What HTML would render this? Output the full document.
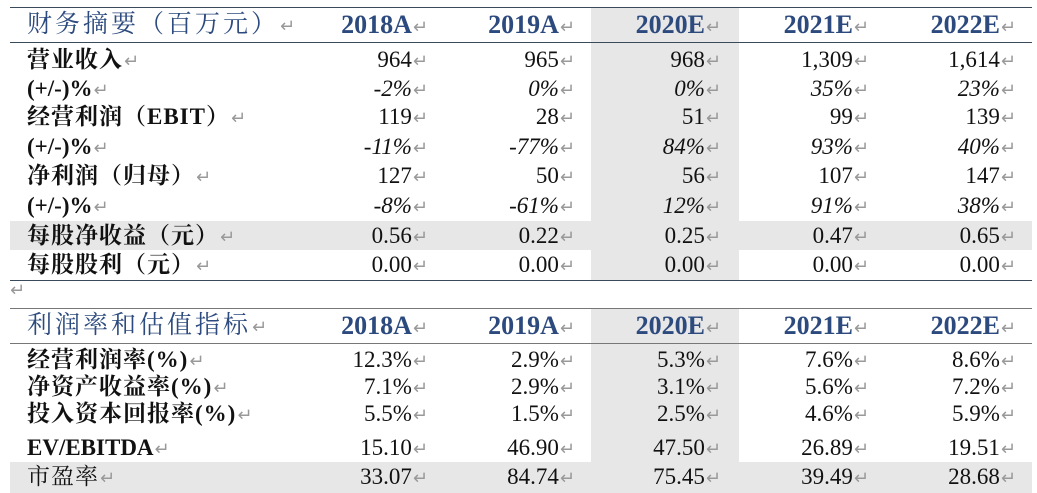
<!DOCTYPE html>
<html><head><meta charset="utf-8"><style>
body{margin:0;width:1037px;height:493px;background:#fff;position:relative;overflow:hidden;font-family:"Liberation Serif","Noto Serif CJK SC",serif;color:#111}
.gcol{position:absolute;left:591px;width:148px;background:#e7e7e7}
.grow{position:absolute;left:10px;width:1022px;background:#e7e7e7}
.line{position:absolute;left:10px;width:1022px;height:1px;background:#3a4a5a}
.row{position:absolute;left:0;width:1037px;height:29px;line-height:29px;font-size:23px}
.row span{position:absolute;white-space:nowrap}
.lab{left:27px;font-weight:bold;letter-spacing:1px;font-family:"Liberation Serif","Noto Serif CJK SC",serif}
.c{text-align:right;width:140px}
.c1{left:288px}.c2{left:435px}.c3{left:581px}.c4{left:729px}.c5{left:876px}
.r{color:#999;font-size:18px;font-family:"DejaVu Sans",sans-serif;margin-left:1px;font-weight:normal;font-style:normal}
.hd{font-weight:bold;color:#2c4a7e;font-size:26px}
.hd .lab{font-weight:normal;color:#2c4a7e;letter-spacing:3px;font-size:25px}
.it{font-style:italic}
</style></head><body>
<div class="gcol" style="top:7px;height:273px"></div>
<div class="gcol" style="top:308px;height:185px"></div>
<div class="grow" style="top:221px;height:29px"></div>
<div class="grow" style="top:462px;height:31px"></div>
<div class="line" style="top:7px"></div>
<div class="line" style="top:42px"></div>
<div class="line" style="top:280px"></div>
<div class="line" style="top:308px;background:#777"></div>
<div class="line" style="top:343px;background:#777"></div>
<div style="position:absolute;left:10px;top:280px;color:#999;font-size:18px;font-family:'DejaVu Sans',sans-serif">↵</div>

<div class="row hd" style="top:8px;height:34px;line-height:34px"><span class="lab">财务摘要（百万元）<i class="r">↵</i></span><span class="c c1">2018A<i class="r">↵</i></span><span class="c c2">2019A<i class="r">↵</i></span><span class="c c3">2020E<i class="r">↵</i></span><span class="c c4">2021E<i class="r">↵</i></span><span class="c c5">2022E<i class="r">↵</i></span></div>

<div class="row" style="top:45px"><span class="lab">营业收入<b class="r">↵</b></span><span class="c c1">964<b class="r">↵</b></span><span class="c c2">965<b class="r">↵</b></span><span class="c c3">968<b class="r">↵</b></span><span class="c c4">1,309<b class="r">↵</b></span><span class="c c5">1,614<b class="r">↵</b></span></div>
<div class="row it" style="top:74px"><span class="lab" style="font-style:normal;letter-spacing:0">(+/-)%<b class="r">↵</b></span><span class="c c1">-2%<b class="r">↵</b></span><span class="c c2">0%<b class="r">↵</b></span><span class="c c3">0%<b class="r">↵</b></span><span class="c c4">35%<b class="r">↵</b></span><span class="c c5">23%<b class="r">↵</b></span></div>
<div class="row" style="top:102px"><span class="lab">经营利润（EBIT）<b class="r">↵</b></span><span class="c c1">119<b class="r">↵</b></span><span class="c c2">28<b class="r">↵</b></span><span class="c c3">51<b class="r">↵</b></span><span class="c c4">99<b class="r">↵</b></span><span class="c c5">139<b class="r">↵</b></span></div>
<div class="row it" style="top:132px"><span class="lab" style="font-style:normal;letter-spacing:0">(+/-)%<b class="r">↵</b></span><span class="c c1">-11%<b class="r">↵</b></span><span class="c c2">-77%<b class="r">↵</b></span><span class="c c3">84%<b class="r">↵</b></span><span class="c c4">93%<b class="r">↵</b></span><span class="c c5">40%<b class="r">↵</b></span></div>
<div class="row" style="top:161px"><span class="lab">净利润（归母）<b class="r">↵</b></span><span class="c c1">127<b class="r">↵</b></span><span class="c c2">50<b class="r">↵</b></span><span class="c c3">56<b class="r">↵</b></span><span class="c c4">107<b class="r">↵</b></span><span class="c c5">147<b class="r">↵</b></span></div>
<div class="row it" style="top:191px"><span class="lab" style="font-style:normal;letter-spacing:0">(+/-)%<b class="r">↵</b></span><span class="c c1">-8%<b class="r">↵</b></span><span class="c c2">-61%<b class="r">↵</b></span><span class="c c3">12%<b class="r">↵</b></span><span class="c c4">91%<b class="r">↵</b></span><span class="c c5">38%<b class="r">↵</b></span></div>
<div class="row" style="top:221px"><span class="lab">每股净收益（元）<b class="r">↵</b></span><span class="c c1">0.56<b class="r">↵</b></span><span class="c c2">0.22<b class="r">↵</b></span><span class="c c3">0.25<b class="r">↵</b></span><span class="c c4">0.47<b class="r">↵</b></span><span class="c c5">0.65<b class="r">↵</b></span></div>
<div class="row" style="top:250px"><span class="lab">每股股利（元）<b class="r">↵</b></span><span class="c c1">0.00<b class="r">↵</b></span><span class="c c2">0.00<b class="r">↵</b></span><span class="c c3">0.00<b class="r">↵</b></span><span class="c c4">0.00<b class="r">↵</b></span><span class="c c5">0.00<b class="r">↵</b></span></div>

<div class="row hd" style="top:309px;height:34px;line-height:34px"><span class="lab">利润率和估值指标<i class="r">↵</i></span><span class="c c1">2018A<i class="r">↵</i></span><span class="c c2">2019A<i class="r">↵</i></span><span class="c c3">2020E<i class="r">↵</i></span><span class="c c4">2021E<i class="r">↵</i></span><span class="c c5">2022E<i class="r">↵</i></span></div>

<div class="row" style="top:345px"><span class="lab">经营利润率(%)<b class="r">↵</b></span><span class="c c1">12.3%<b class="r">↵</b></span><span class="c c2">2.9%<b class="r">↵</b></span><span class="c c3">5.3%<b class="r">↵</b></span><span class="c c4">7.6%<b class="r">↵</b></span><span class="c c5">8.6%<b class="r">↵</b></span></div>
<div class="row" style="top:372px"><span class="lab">净资产收益率(%)<b class="r">↵</b></span><span class="c c1">7.1%<b class="r">↵</b></span><span class="c c2">2.9%<b class="r">↵</b></span><span class="c c3">3.1%<b class="r">↵</b></span><span class="c c4">5.6%<b class="r">↵</b></span><span class="c c5">7.2%<b class="r">↵</b></span></div>
<div class="row" style="top:399px"><span class="lab">投入资本回报率(%)<b class="r">↵</b></span><span class="c c1">5.5%<b class="r">↵</b></span><span class="c c2">1.5%<b class="r">↵</b></span><span class="c c3">2.5%<b class="r">↵</b></span><span class="c c4">4.6%<b class="r">↵</b></span><span class="c c5">5.9%<b class="r">↵</b></span></div>
<div class="row" style="top:433px"><span class="lab" style="letter-spacing:0">EV/EBITDA<b class="r">↵</b></span><span class="c c1">15.10<b class="r">↵</b></span><span class="c c2">46.90<b class="r">↵</b></span><span class="c c3">47.50<b class="r">↵</b></span><span class="c c4">26.89<b class="r">↵</b></span><span class="c c5">19.51<b class="r">↵</b></span></div>
<div class="row" style="top:462px"><span class="lab" style="font-weight:normal">市盈率<b class="r">↵</b></span><span class="c c1">33.07<b class="r">↵</b></span><span class="c c2">84.74<b class="r">↵</b></span><span class="c c3">75.45<b class="r">↵</b></span><span class="c c4">39.49<b class="r">↵</b></span><span class="c c5">28.68<b class="r">↵</b></span></div>
</body></html>
